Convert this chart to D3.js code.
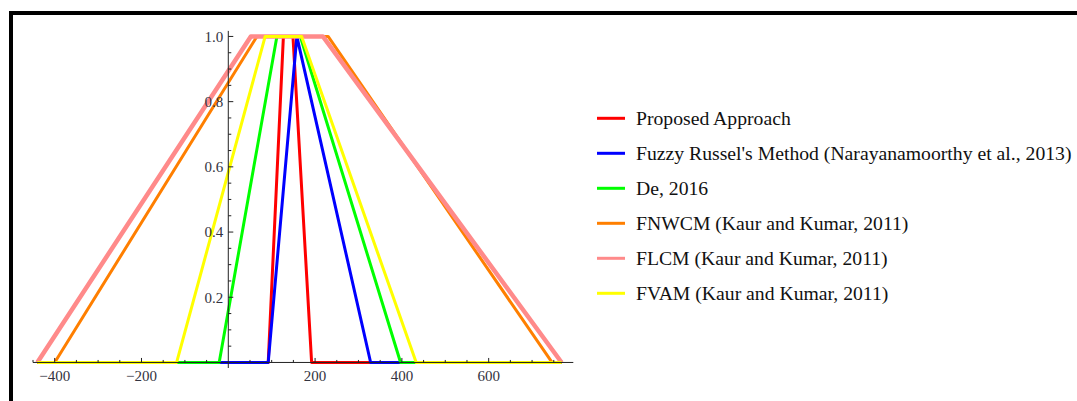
<!DOCTYPE html>
<html>
<head>
<meta charset="utf-8">
<script src="https://cdn.jsdelivr.net/npm/d3@7"></script>
<style>
  html, body { margin: 0; padding: 0; background: #fff; }
  svg { display: block; }
</style>
</head>
<body>
<svg id="chart" width="1077" height="401"></svg>
<script>
// ---- data ----
const seriesNames = [
  "Proposed Approach",
  "Fuzzy Russel's Method (Narayanamoorthy et al., 2013)",
  "De, 2016",
  "FNWCM (Kaur and Kumar, 2011)",
  "FLCM (Kaur and Kumar, 2011)",
  "FVAM (Kaur and Kumar, 2011)"
];
// trapezoidal fuzzy numbers (a, b, c, d)
const proposed = [92, 127, 149, 192];
const russel   = [92, 158, 158, 328];
const de2016   = [-21, 112, 166, 397];
const fnwcm    = [-400, 66, 230, 746];
const flcm     = [-440, 52, 218, 768];
const fvam     = [-119, 85, 169, 433];
const seriesValues = [proposed, russel, de2016, fnwcm, flcm, fvam];
const plotDomain = [-440, 768];          // x range over which each function is plotted
const xTickValues = [-400, -200, 200, 400, 600];
const xTickLabels = ["\u2212400", "\u2212200", "200", "400", "600"];
const yTickValues = [0.2, 0.4, 0.6, 0.8, 1.0];
const yTickLabels = ["0.2", "0.4", "0.6", "0.8", "1.0"];

// ---- styles ----
const colors = ["#ff0000", "#0000ff", "#00ff00", "#ff7f00", "#ff8a8a", "#ffff00"];
const widths = [3, 3, 3, 3, 4.5, 3];
const serif = "'Liberation Serif', 'Times New Roman', serif";

const svg = d3.select("#chart");

// frame
svg.append("path")
  .attr("d", "M11,401 L11,13 L1077,13")
  .attr("fill", "none").attr("stroke", "#000").attr("stroke-width", 4);

const x = d3.scaleLinear().domain([-450, 795]).range([33, 573.3]);
const y = d3.scaleLinear().domain([-0.017, 1.017]).range([368, 30.9]);

const line = d3.line().x(d => x(d[0])).y(d => y(d[1]));

const plotG = svg.append("g");
seriesValues.forEach((v, i) => {
  const pts = [[plotDomain[0], 0], [v[0], 0], [v[1], 1], [v[2], 1], [v[3], 0], [plotDomain[1], 0]];
  plotG.append("path")
    .datum(pts)
    .attr("d", line)
    .attr("fill", "none")
    .attr("stroke", colors[i])
    .attr("stroke-width", widths[i])
    .attr("stroke-linejoin", "round");
});

// axes
const axisColor = "#222";
const labelColor = "#333340";
const axG = svg.append("g");
axG.append("line")
  .attr("x1", x.range()[0]).attr("x2", x.range()[1])
  .attr("y1", y(0)).attr("y2", y(0))
  .attr("stroke", axisColor).attr("stroke-width", 1);
axG.append("line")
  .attr("x1", x(0)).attr("x2", x(0))
  .attr("y1", y.range()[0]).attr("y2", y.range()[1])
  .attr("stroke", axisColor).attr("stroke-width", 1);

const xMinor = d3.range(-450, 796, 50).filter(v => v !== 0);
axG.selectAll(".xt").data(xMinor).join("line")
  .attr("x1", d => x(d)).attr("x2", d => x(d))
  .attr("y1", y(0)).attr("y2", d => y(0) - (d % 200 === 0 ? 4.5 : 2.5))
  .attr("stroke", axisColor).attr("stroke-width", 1);
axG.selectAll(".xl").data(xTickValues).join("text")
  .attr("x", d => x(d)).attr("y", y(0) + 19)
  .attr("text-anchor", "middle")
  .attr("font-family", serif)
  .attr("font-size", 15).attr("fill", labelColor)
  .text((d, i) => xTickLabels[i]);

const yMinor = d3.range(1, 21).map(k => k * 0.05);
axG.selectAll(".yt").data(yMinor).join("line")
  .attr("x1", x(0)).attr("x2", (d, i) => x(0) + ((i + 1) % 4 === 0 ? 5 : 3))
  .attr("y1", d => y(d)).attr("y2", d => y(d))
  .attr("stroke", axisColor).attr("stroke-width", 1);
axG.selectAll(".yl").data(yTickValues).join("text")
  .attr("x", x(0) - 5).attr("y", d => y(d))
  .attr("dy", "0.35em")
  .attr("text-anchor", "end")
  .attr("font-family", serif)
  .attr("font-size", 15).attr("fill", labelColor)
  .text((d, i) => yTickLabels[i]);

// legend
const lg = svg.append("g").attr("transform", "translate(597,118.3)");
seriesNames.forEach((name, i) => {
  const g = lg.append("g").attr("transform", `translate(0,${i * 35})`);
  g.append("line").attr("x1", 0).attr("x2", 28).attr("y1", 0).attr("y2", 0)
    .attr("stroke", colors[i]).attr("stroke-width", 3);
  g.append("text").attr("x", 39).attr("y", 0).attr("dy", "0.33em")
    .attr("font-family", serif)
    .attr("font-size", 19.7).attr("fill", "#111")
    .text(name);
});
</script>
</body>
</html>
